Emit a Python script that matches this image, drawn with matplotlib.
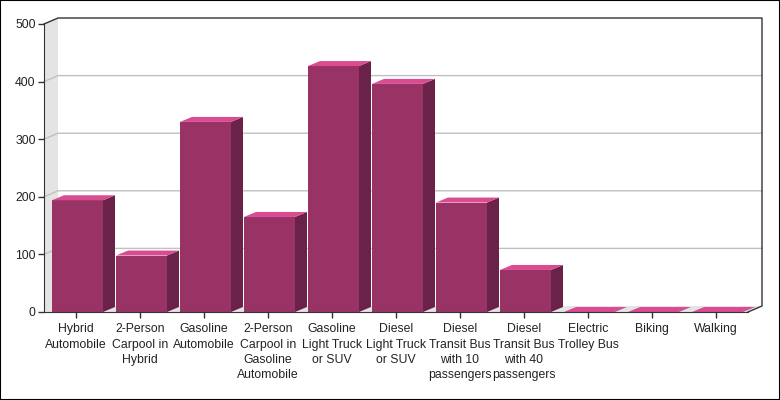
import matplotlib.pyplot as plt
from matplotlib.patches import Polygon, Rectangle

plt.rcParams["font.family"] = ["Liberation Sans", "DejaVu Sans"]

categories = [
    "Hybrid\nAutomobile",
    "2-Person\nCarpool in\nHybrid",
    "Gasoline\nAutomobile",
    "2-Person\nCarpool in\nGasoline\nAutomobile",
    "Gasoline\nLight Truck\nor SUV",
    "Diesel\nLight Truck\nor SUV",
    "Diesel\nTransit Bus\nwith 10\npassengers",
    "Diesel\nTransit Bus\nwith 40\npassengers",
    "Electric\nTrolley Bus",
    "Biking",
    "Walking",
]
values = [194, 98, 330, 165, 427, 396, 190, 73, 0, 0, 0]
y_ticks = [0, 100, 200, 300, 400, 500]

FRONT = "#993366"
SIDE = "#6b2248"
TOP = "#d94c92"
WALL = "#e4e4e4"
GRID = "#c0c0c0"
EDGE = "#333333"

fig = plt.figure(figsize=(7.8, 4.0), dpi=100)
ax = fig.add_axes([44 / 780, 88 / 400, 704 / 780, 288 / 400])
n = len(categories)
x0, x1 = -0.5, n - 0.5
y0, y1 = 0, 500
ax.set_xlim(x0, x1)
ax.set_ylim(y0, y1)

# depth of walls and bars, in data units (pixels -> data)
px_x = 704 / (x1 - x0)
px_y = 288 / (y1 - y0)
wdx, wdy = 14 / px_x, 6 / px_y
bdx, bdy = 12 / px_x, 5 / px_y

# side wall and floor
ax.add_patch(Polygon([(x0, y0), (x0, y1), (x0 + wdx, y1 + wdy), (x0 + wdx, y0 + wdy)],
                     closed=True, facecolor=WALL, edgecolor="none", clip_on=False, zorder=0))
ax.add_patch(Polygon([(x0, y0), (x1, y0), (x1 + wdx, y0 + wdy), (x0 + wdx, y0 + wdy)],
                     closed=True, facecolor=WALL, edgecolor="none", clip_on=False, zorder=0))

# gridlines on the back wall plus diagonals on side wall
for v in y_ticks[1:-1]:
    ax.plot([x0, x0 + wdx, x1 + wdx], [v, v + wdy, v + wdy], color=GRID, lw=1,
            clip_on=False, zorder=1)

# wall outlines
ax.plot([x0, x0 + wdx, x1 + wdx, x1 + wdx, x1], [y1, y1 + wdy, y1 + wdy, y0 + wdy, y0],
        color=EDGE, lw=1, clip_on=False, zorder=1)

# bars: front face, side, top
xs = list(range(n))
left = -0.375
width = 51 / px_x
ax.bar([x + left for x in xs], values, width=width, align="edge", color=FRONT,
       edgecolor="none", zorder=3)
for x, v in zip(xs, values):
    l, r = x + left, x + left + width
    ax.add_patch(Polygon([(r, 0), (r, v), (r + bdx, v + bdy), (r + bdx, bdy)],
                         closed=True, facecolor=SIDE, edgecolor="none", clip_on=False, zorder=3))
    ax.add_patch(Polygon([(l, v), (r, v), (r + bdx, v + bdy), (l + bdx, v + bdy)],
                         closed=True, facecolor=TOP, edgecolor="none", clip_on=False, zorder=3))

for s in ["top", "right"]:
    ax.spines[s].set_visible(False)
for s in ["left", "bottom"]:
    ax.spines[s].set_color(EDGE)
    ax.spines[s].set_zorder(4)

ax.set_xticks(xs)
ax.set_xticklabels(categories, fontsize=8.8, color="#222222", linespacing=1.38)
ax.set_yticks(y_ticks)
ax.set_yticklabels([str(v) for v in y_ticks], fontsize=8.8, color="#222222")
ax.tick_params(axis="both", length=4, color=EDGE, width=1)
ax.tick_params(axis="x", pad=4)
ax.tick_params(axis="y", pad=2)

fig.patches.append(Rectangle((0, 0), 1, 1, transform=fig.transFigure, fill=False,
                             edgecolor="black", lw=1.5))

fig.savefig("out.png", dpi=100)
